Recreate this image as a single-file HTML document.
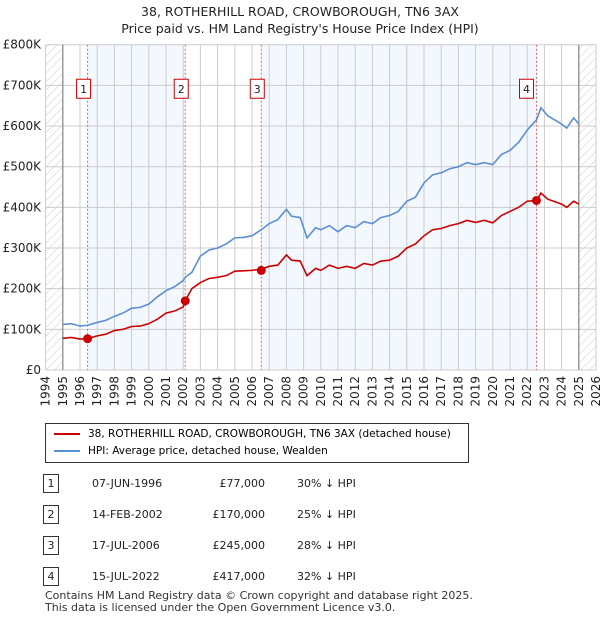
<!DOCTYPE html>
<html><head><meta charset="utf-8"><style>
body{margin:0;width:600px;height:620px;background:#fff;font-family:"DejaVu Sans","Liberation Sans",sans-serif;overflow:hidden;position:relative}
.t{position:absolute;font-size:12px;color:#222}
svg text{font-family:"DejaVu Sans","Liberation Sans",sans-serif}
</style></head><body>
<div class="t" style="left:0;width:600px;top:3px;text-align:center;font-size:12.5px;line-height:17px">38, ROTHERHILL ROAD, CROWBOROUGH, TN6 3AX<br>Price paid vs. HM Land Registry's House Price Index (HPI)</div>
<svg id="chart" width="600" height="420" style="position:absolute;left:0;top:0">
<defs><pattern id="hatch" width="6" height="6" patternUnits="userSpaceOnUse" patternTransform="rotate(45)"><line x1="0" y1="0" x2="0" y2="6" stroke="#ccc" stroke-width="1"/></pattern></defs>
</svg>
<div style="position:absolute;left:45px;top:423px;width:422px;height:38px;border:1px solid #333">
<div style="position:absolute;left:8px;top:4px;font-size:10.5px;white-space:nowrap"><span style="display:inline-block;width:26px;height:2px;background:#cc0000;vertical-align:middle;margin-right:8px"></span>38, ROTHERHILL ROAD, CROWBOROUGH, TN6 3AX (detached house)</div>
<div style="position:absolute;left:8px;top:21px;font-size:10.5px;white-space:nowrap"><span style="display:inline-block;width:26px;height:2px;background:#5b8fd4;vertical-align:middle;margin-right:8px"></span>HPI: Average price, detached house, Wealden</div>
</div>
<div id="table"></div>
<div class="t" style="left:45px;top:590px;font-size:11px;line-height:12px;color:#333;white-space:nowrap">Contains HM Land Registry data © Crown copyright and database right 2025.<br>This data is licensed under the Open Government Licence v3.0.</div>
<script>
const hpiYears=[1995,1995.5,1996,1996.44,1997,1997.5,1998,1998.5,1999,1999.5,2000,2000.5,2001,2001.5,2002,2002.12,2002.5,2003,2003.5,2004,2004.5,2005,2005.5,2006,2006.54,2007,2007.5,2008,2008.3,2008.8,2009.2,2009.7,2010,2010.5,2011,2011.5,2012,2012.5,2013,2013.5,2014,2014.5,2015,2015.5,2016,2016.5,2017,2017.5,2018,2018.5,2019,2019.5,2020,2020.5,2021,2021.5,2022,2022.54,2022.8,2023.2,2023.6,2024,2024.3,2024.7,2025];
const hpiValues=[112,114,108,110,117,122,132,140,152,154,162,180,195,205,220,228,240,280,295,300,310,325,326,330,345,360,370,395,378,375,325,350,345,355,340,355,350,365,360,375,380,390,415,425,460,480,485,495,500,510,505,510,505,530,540,560,590,615,645,625,615,605,595,620,605];
const redValues=[78,80,76,77,84,88,97,100,107,108,114,125,140,145,155,170,200,215,225,228,232,243,244,245,248,255,258,283,270,268,232,250,245,258,250,255,250,262,258,268,270,280,300,310,330,345,348,355,360,368,363,368,362,380,390,400,415,417,435,420,414,408,400,415,408];
const saleYears=[1996.44,2002.12,2006.54,2022.54];
const salePrices=[77,170,245,417];
const saleLabels=["1","2","3","4"];
const saleDates=["07-JUN-1996","14-FEB-2002","17-JUL-2006","15-JUL-2022"];
const salePriceText=["£77,000","£170,000","£245,000","£417,000"];
const saleHpiText=["30% ↓ HPI","25% ↓ HPI","28% ↓ HPI","32% ↓ HPI"];
const yTicks=[0,100,200,300,400,500,600,700,800];
const yTickLabels=["£0","£100K","£200K","£300K","£400K","£500K","£600K","£700K","£800K"];
const xTicks=[];for(let y=1994;y<=2026;y++)xTicks.push(y);

const NS="http://www.w3.org/2000/svg";
const svg=document.getElementById('chart');
const X=y=>45.6+(y-1994)*17.2;
const Y=v=>370-v*0.4066;
function mk(tag,attrs,parent){const e=document.createElementNS(NS,tag);for(const k in attrs)e.setAttribute(k,attrs[k]);(parent||svg).appendChild(e);return e;}
const shadeStarts=[saleYears[0],saleYears[2]],shadeEnds=[saleYears[1],saleYears[3]];
for(let i=0;i<2;i++){const r=mk('rect',{x:X(shadeStarts[i]),y:Y(800),width:X(shadeEnds[i])-X(shadeStarts[i]),height:Y(0)-Y(800),fill:'#f3f7fe'});

}
let h1=mk('rect',{x:X(1994),y:Y(800),width:X(1995)-X(1994),height:Y(0)-Y(800),fill:'url(#hatch)'});


let h2=mk('rect',{x:X(2025),y:Y(800),width:X(2026)-X(2025),height:Y(0)-Y(800),fill:'url(#hatch)'});


xTicks.forEach(t=>{const l=mk('line',{x1:X(t),x2:X(t),y1:Y(800),y2:Y(0),stroke:'#ccc','stroke-width':1});


const tx=mk('text',{x:X(t)+4,y:376,transform:`rotate(-90 ${X(t)+4} 376)`,'text-anchor':'end','font-size':12,fill:'#222'});tx.textContent=t;

});
yTicks.forEach((t,i)=>{const l=mk('line',{x1:X(1994),x2:X(2026),y1:Y(t),y2:Y(t),stroke:'#ccc','stroke-width':1});


const tx=mk('text',{x:41,y:Y(t)+4,'text-anchor':'end','font-size':12,fill:'#222'});tx.textContent=yTickLabels[i];

});
[1995,2025].forEach(t=>{const l=mk('line',{x1:X(t),x2:X(t),y1:Y(800),y2:Y(0),stroke:'#888','stroke-width':1.2});

});
saleYears.forEach((s,i)=>{const l=mk('line',{x1:X(s),x2:X(s),y1:Y(800),y2:Y(0),stroke:'#f06060','stroke-width':1,'stroke-dasharray':'2,2'});


const r=mk('rect',{x:X(s)-(i==3?10:4)-7,y:Y(720)+2,width:14,height:19,fill:'#fff',stroke:'#cc0000','stroke-width':1});


const tx=mk('text',{x:X(s)-(i==3?10:4),y:Y(720)+16,'text-anchor':'middle','font-size':11,fill:'#222'});tx.textContent=saleLabels[i];

});
const hp=mk('polyline',{points:hpiYears.map((y,i)=>X(y)+','+Y(hpiValues[i])).join(' '),fill:'none',stroke:'#5b8fd4','stroke-width':1.6});


const rp=mk('polyline',{points:hpiYears.map((y,i)=>X(y)+','+Y(redValues[i])).join(' '),fill:'none',stroke:'#cc0000','stroke-width':1.6});


saleYears.forEach((s,i)=>{const c=mk('circle',{cx:X(s),cy:Y(salePrices[i]),r:4.5,fill:'#cc0000'});

});
const tb=document.getElementById('table');
saleDates.forEach((d,i)=>{const top=474+i*31;
const row=document.createElement('div');


row.style.cssText=`position:absolute;left:0;top:${top}px;width:600px;height:20px;font-size:11px;color:#222`;
row.innerHTML=`<span style="position:absolute;left:43px;top:0;width:14px;height:17px;border:1px solid #333;text-align:center;line-height:17px">${saleLabels[i]}</span><span style="position:absolute;left:92px;top:3px">${d}</span><span style="position:absolute;right:335px;top:3px">${salePriceText[i]}</span><span style="position:absolute;left:297px;top:3px">${saleHpiText[i]}</span>`;
tb.appendChild(row);});
</script>
</body></html>
